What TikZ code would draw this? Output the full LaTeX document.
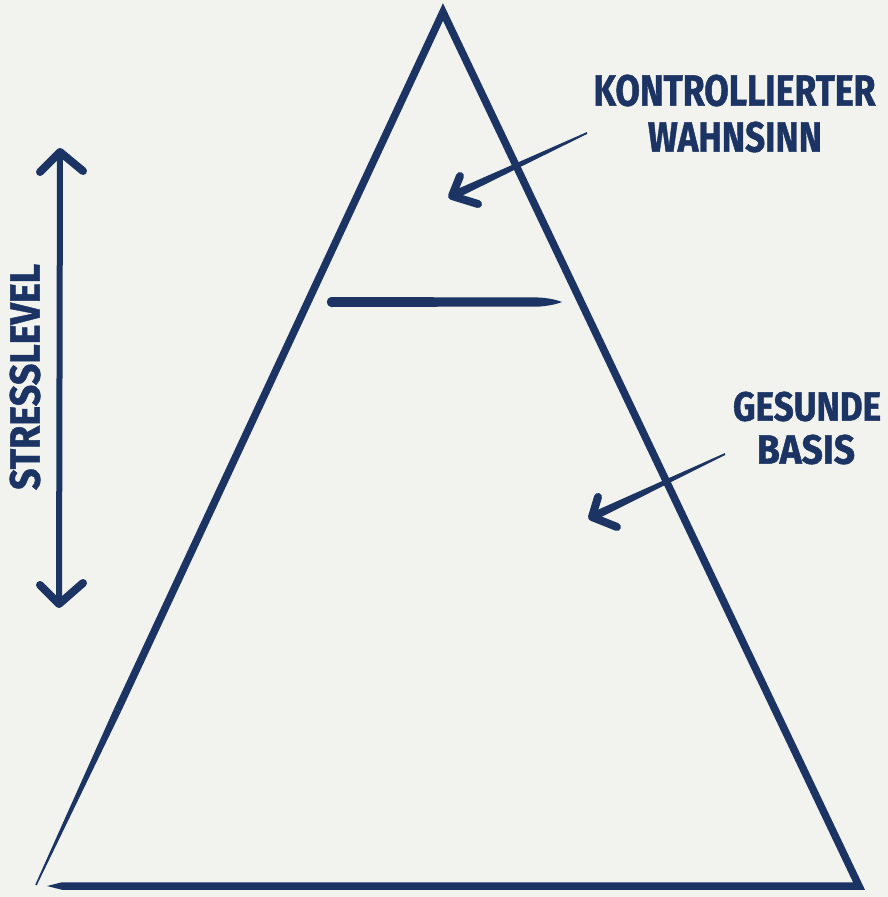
\documentclass[tikz,border=0pt]{standalone}
\usepackage{fontspec}
\setmainfont{Fira Sans}[BoldFeatures={FakeBold=1.2}]
\usetikzlibrary{calc}
\definecolor{navy}{RGB}{27,52,100}
\definecolor{paper}{RGB}{242,242,239}
\begin{document}
\begin{tikzpicture}[x=1pt,y=-1pt,
  ink/.style={draw=navy,line cap=round,line join=round},
  headstroke/.style={draw=navy,line width=8pt,line cap=round,line join=round},
  lab/.style={inner sep=0pt,text=navy,font=\bfseries}]
\useasboundingbox (0,0) rectangle (888,897);
\fill[paper] (0,0) rectangle (888,897);

% pyramid corners
\coordinate (apex) at (443,12);
\coordinate (bl) at (36,885);
\coordinate (br) at (859,886);
\coordinate (bend) at (62,886);
\coordinate (bendtip) at (47,886);
\coordinate (lmid) at ($(apex)!0.8!(bl)$);

% thick outline: left part, apex, right side, bottom
\draw[draw=navy,line width=7.5pt,line join=miter] (lmid) -- (apex) -- (br) -- (bend);
% tapered lower end of left side
\fill[navy] ($(lmid)!3.75pt!90:(bl)$) -- ($(bl)!0.8pt!-90:(lmid)$) -- ($(bl)!0.8pt!90:(lmid)$) -- ($(lmid)!3.75pt!-90:(bl)$) -- cycle;
% tapered left end of bottom
\fill[navy] ($(bend)+(0,-3.75)$) -- (bendtip) -- ($(bend)+(0,3.75)$) -- cycle;

% dividing bar
\fill[navy] (331,297) -- (540,297.5) .. controls (552,298.5) and (558,300.5) .. (562,302)
  .. controls (558,303.5) and (552,305.5) .. (540,306.5) -- (331,307)
  .. controls (325.5,306.5) and (325.5,297.5) .. cycle;

% labels
\node[lab] (kw1) at (734.5,90.5) {\resizebox{282pt}{31pt}{KONTROLLIERTER}};
\node[lab] (kw2) at (735,137) {\resizebox{174pt}{30pt}{WAHNSINN}};
\node[lab] (gb1) at (807,406.5) {\resizebox{148pt}{29pt}{GESUNDE}};
\node[lab] (gb2) at (806,449.5) {\resizebox{98pt}{29pt}{BASIS}};
\node[lab,rotate=90] (sl) at (25,377) {\resizebox{226pt}{30pt}{STRESSLEVEL}};

% arrow 1
\coordinate (s1) at (587,133);
\coordinate (t1) at (452,196);
\coordinate (a1u) at (460,176);
\coordinate (a1d) at (478,204);
\fill[navy] ($(s1)!0.9pt!90:(t1)$) -- ($(t1)!4.2pt!-90:(s1)$) -- ($(t1)!4.2pt!90:(s1)$) -- ($(s1)!0.9pt!-90:(t1)$) -- cycle;
\draw[headstroke] (a1u) -- (t1) -- (a1d);

% arrow 2
\coordinate (s2) at (725,454);
\coordinate (t2) at (592,517);
\coordinate (a2u) at (598,497);
\coordinate (a2d) at (617,527);
\fill[navy] ($(s2)!0.9pt!90:(t2)$) -- ($(t2)!4.2pt!-90:(s2)$) -- ($(t2)!4.2pt!90:(s2)$) -- ($(s2)!0.9pt!-90:(t2)$) -- cycle;
\draw[headstroke] (a2u) -- (t2) -- (a2d);

% stress level double arrow
\coordinate (vt) at (60,152);
\coordinate (vb) at (59,604);
\coordinate (vtl) at (40,172);
\coordinate (vtr) at (83,171);
\coordinate (vbl) at (40,585);
\coordinate (vbr) at (83,583);
\draw[ink,line width=6pt] (vt) -- (vb);
\draw[headstroke] (vtl) -- (vt) -- (vtr);
\draw[headstroke] (vbl) -- (vb) -- (vbr);
\end{tikzpicture}
\end{document}
